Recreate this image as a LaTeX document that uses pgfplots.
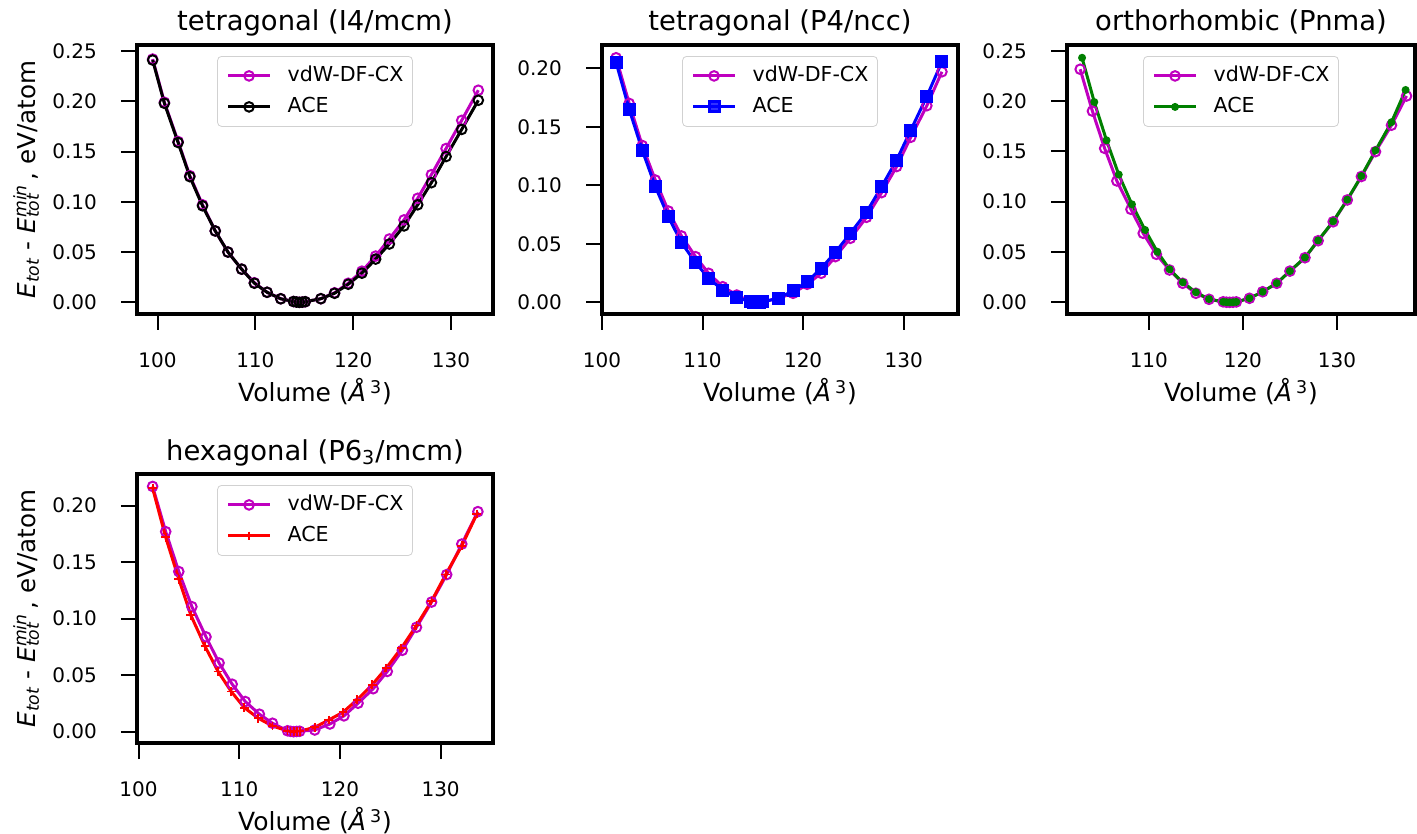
\documentclass[border=0pt]{standalone}
\usepackage{fontspec}
\setmainfont{DejaVu Sans}
\usepackage{pgfplots}
\pgfplotsset{compat=1.18}
\definecolor{mpm}{rgb}{0.75,0,0.75}
\definecolor{mpg}{rgb}{0,0.5,0}
\newcommand{\ylab}{{\itshape E}\textsubscript{\itshape tot} - {\itshape E}\makebox[0pt][l]{\textsubscript{\itshape tot}}\textsuperscript{\itshape min}\,, eV/atom}
\newcommand{\xlab}{Volume ({\itshape Å}\,\textsuperscript{3})}
\pgfplotsset{
  panel/.style={
    scale only axis, width=178pt, height=134.5pt, anchor=south west,
    axis line style={line width=2pt},
    tick align=outside, xtick pos=bottom, ytick pos=left,
    major tick length=8pt,
    every tick/.style={black, line width=1pt},
    tick label style={font=\fontsize{10}{12}\selectfont},
    xticklabel style={yshift=-8pt},
    /pgf/number format/assume math mode=true,
    scaled y ticks=false,
    yticklabel style={xshift=-8.5pt, /pgf/number format/.cd, fixed, fixed zerofill, precision=2},
    title style={at={(axis description cs:0.5,1.0074)}, anchor=base, font=\fontsize{13.7}{15}\selectfont},
    xlabel style={at={(axis description cs:0.5,-0.327)}, anchor=base, font=\fontsize{12.5}{14}\selectfont},
    ylabel style={at={(axis description cs:-0.2865,0.5)}, anchor=base, font=\fontsize{12.3}{14}\selectfont},
    xlabel={\xlab},
    legend cell align=left,
    legend style={at={(0.5,0.959)}, anchor=north, draw=black!18, rounded corners=2pt,
      fill=white, fill opacity=0.8, text opacity=1,
      font=\fontsize{10.3}{12}\selectfont,
      nodes={inner sep=0pt, text height=8pt, text depth=2.5pt},
      inner xsep=4.5pt, inner ysep=4.5pt, row sep=5pt, column sep=8pt},
    legend image code/.code={\draw[mark repeat=2,mark phase=2] plot coordinates {(0pt,0pt) (10.5pt,0pt) (21pt,0pt)};},
  },
  vdw/.style={color=mpm, line width=1.5pt, mark=o, mark size=2.4pt, mark options={solid, line width=1pt}},
}
\begin{document}
\begin{tikzpicture}
\useasboundingbox (0,0) rectangle (708.5pt,417pt);
% Panel 1
\begin{axis}[panel, at={(68.5pt,260pt)},
  title={tetragonal (I4/mcm)}, ylabel={\ylab},
  xmin=97.9, xmax=134.3, ymin=-0.0116, ymax=0.256,
  xtick={100,110,120,130}, ytick={0,0.05,0.10,0.15,0.20,0.25}]
\addplot[vdw] coordinates {
(99.5,0.242) (100.7,0.199) (102.1,0.160) (103.3,0.126) (104.6,0.097) (105.9,0.071)
(107.2,0.050) (108.6,0.033) (109.9,0.0195) (111.2,0.010) (112.6,0.0036)
(113.9,0.0008) (114.2,0.0003) (114.5,0.0) (114.8,0.0002) (115.1,0.0006)
(116.7,0.0036) (118.1,0.0095) (119.5,0.019) (120.9,0.031) (122.3,0.046) (123.7,0.063)
(125.2,0.082) (126.6,0.1035) (128.0,0.127) (129.5,0.153) (131.1,0.181) (132.8,0.211)};
\addlegendentry{vdW-DF-CX}
\addplot[black, line width=1.5pt, mark=o, mark size=2.4pt, mark options={solid, line width=1pt}] coordinates {
(99.5,0.241) (100.7,0.198) (102.1,0.159) (103.3,0.125) (104.6,0.096) (105.9,0.071)
(107.2,0.050) (108.6,0.033) (109.9,0.019) (111.2,0.010) (112.6,0.0035)
(113.9,0.0008) (114.2,0.0003) (114.5,0.0) (114.8,0.0002) (115.1,0.0006)
(116.7,0.0036) (118.1,0.009) (119.5,0.018) (120.9,0.029) (122.3,0.043) (123.7,0.058)
(125.2,0.076) (126.6,0.097) (128.0,0.119) (129.5,0.145) (131.1,0.172) (132.8,0.201)};
\addlegendentry{ACE}
\end{axis}
% Panel 2
\begin{axis}[panel, at={(301pt,260pt)},
  title={tetragonal (P4/ncc)},
  xmin=100.0, xmax=135.4, ymin=-0.010, ymax=0.2199,
  xtick={100,110,120,130}, ytick={0,0.05,0.10,0.15,0.20}]
\addplot[vdw] coordinates {
(101.4,0.209) (102.7,0.170) (104.0,0.134) (105.3,0.1045) (106.6,0.078) (107.9,0.0567)
(109.3,0.039) (110.6,0.0248) (112.0,0.0133) (113.4,0.0062)
(114.8,0.0005) (115.1,0.0001) (115.4,0.0) (115.7,0.0001) (116.0,0.0004)
(117.5,0.0034) (119.0,0.0077) (120.4,0.0154) (121.8,0.0248) (123.2,0.039) (124.7,0.0547)
(126.3,0.0726) (127.8,0.0937) (129.3,0.116) (130.7,0.141) (132.3,0.168) (133.8,0.197)};
\addlegendentry{vdW-DF-CX}
\addplot[blue, line width=1.5pt, mark=square*, mark size=2.5pt, mark options={solid}] coordinates {
(101.4,0.205) (102.7,0.165) (104.0,0.130) (105.3,0.099) (106.6,0.073) (107.9,0.051)
(109.3,0.034) (110.6,0.0205) (112.0,0.0105) (113.4,0.004)
(114.8,0.0005) (115.1,0.0001) (115.4,0.0) (115.7,0.0001) (116.0,0.0004)
(117.5,0.0034) (119.0,0.0097) (120.4,0.0176) (121.8,0.029) (123.2,0.0427) (124.7,0.059)
(126.3,0.077) (127.8,0.0988) (129.3,0.1216) (130.7,0.147) (132.3,0.176) (133.8,0.2056)};
\addlegendentry{ACE}
\end{axis}
% Panel 3
\begin{axis}[panel, at={(533.5pt,260pt)}, width=174pt,
  title={orthorhombic (Pnma)},
  xmin=101.3, xmax=138.3, ymin=-0.0116, ymax=0.2557,
  xtick={110,120,130}, ytick={0,0.05,0.10,0.15,0.20,0.25}]
\addplot[vdw] coordinates {
(102.7,0.2316) (104.0,0.190) (105.3,0.153) (106.6,0.1206) (108.1,0.0924) (109.4,0.0686)
(110.8,0.0477) (112.2,0.0321) (113.6,0.0189) (115.0,0.009) (116.4,0.003)
(117.9,0.0005) (118.25,0.0001) (118.6,0.0) (118.95,0.0001) (119.3,0.0004)
(120.7,0.004) (122.1,0.0105) (123.6,0.0189) (125.0,0.031) (126.6,0.0443) (128.0,0.0612)
(129.6,0.080) (131.1,0.1017) (132.6,0.125) (134.1,0.1497) (135.8,0.176) (137.4,0.205)};
\addlegendentry{vdW-DF-CX}
\addplot[mpg, line width=1.5pt, mark=*, mark size=1.2pt, mark options={solid}] coordinates {
(102.9,0.243) (104.2,0.199) (105.5,0.161) (106.8,0.127) (108.2,0.0974) (109.6,0.0719)
(110.9,0.0503) (112.2,0.0328) (113.6,0.0199) (115.0,0.010) (116.4,0.0032)
(117.9,0.0005) (118.25,0.0001) (118.6,0.0) (118.95,0.0001) (119.3,0.0004)
(120.7,0.004) (122.1,0.0105) (123.6,0.019) (125.0,0.031) (126.6,0.0445) (128.0,0.0615)
(129.6,0.0805) (131.1,0.102) (132.6,0.1255) (134.1,0.151) (135.8,0.179) (137.3,0.211)};
\addlegendentry{ACE}
\end{axis}
% Panel 4
\begin{axis}[panel, at={(68.5pt,45.5pt)},
  title={hexagonal (P6\textsubscript{3}/mcm)}, ylabel={\ylab},
  xmin=99.85, xmax=135.2, ymin=-0.010, ymax=0.228,
  xtick={100,110,120,130}, ytick={0,0.05,0.10,0.15,0.20}]
\addplot[vdw] coordinates {
(101.4,0.217) (102.7,0.177) (104.0,0.1417) (105.3,0.1106) (106.7,0.0839) (108.0,0.0608)
(109.3,0.042) (110.6,0.0267) (112.0,0.0155) (113.3,0.0075)
(114.8,0.0008) (115.1,0.0003) (115.4,0.0) (115.7,0.0002) (116.0,0.0004)
(117.5,0.0015) (119.0,0.0068) (120.4,0.014) (121.8,0.0252) (123.3,0.038) (124.7,0.0533)
(126.2,0.072) (127.6,0.0924) (129.1,0.1147) (130.6,0.139) (132.1,0.166) (133.7,0.1947)};
\addlegendentry{vdW-DF-CX}
\addplot[red, line width=1.5pt, mark=+, mark size=2.2pt, mark options={solid, line width=0.9pt}] coordinates {
(101.4,0.2155) (102.7,0.172) (104.0,0.135) (105.2,0.103) (106.6,0.0756) (107.9,0.0533)
(109.2,0.0356) (110.5,0.0213) (111.9,0.0119) (113.3,0.005)
(114.8,0.0008) (115.1,0.0003) (115.4,0.0) (115.7,0.0002) (116.0,0.0004)
(117.5,0.0039) (118.9,0.0104) (120.3,0.0172) (121.7,0.0282) (123.2,0.0415) (124.6,0.0563)
(126.1,0.074) (127.6,0.094) (129.1,0.1156) (130.5,0.139) (132.1,0.1644) (133.6,0.1926)};
\addlegendentry{ACE}
\end{axis}
\end{tikzpicture}
\end{document}
